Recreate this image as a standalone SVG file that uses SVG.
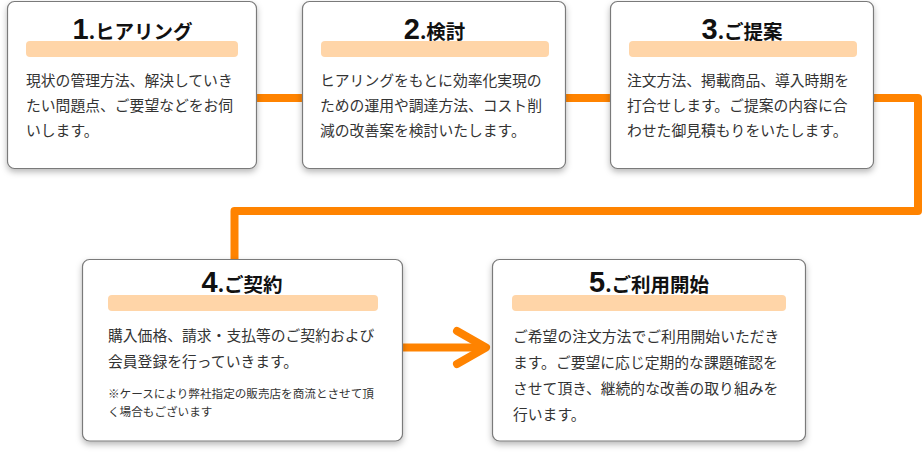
<svg xmlns="http://www.w3.org/2000/svg" width="924" height="454" viewBox="0 0 924 454">
<defs>
<filter id="sh" x="-10%" y="-10%" width="120%" height="130%">
<feDropShadow dx="0" dy="3" stdDeviation="3" flood-color="#000" flood-opacity="0.28"/>
</filter>
</defs>
<style>
.box{fill:#fff;stroke:#7a7a7a;stroke-width:1.2;filter:url(#sh)}
.bar{fill:#FFD5A8}
.conn{fill:none;stroke:#FF8300;stroke-width:8;stroke-linejoin:round;stroke-linecap:butt}
.ttl{font-family:"Noto Sans CJK JP","Noto Sans",sans-serif;font-weight:700;font-size:19.5px;fill:#111;text-anchor:middle}
.num{font-family:"Liberation Sans",Arial,sans-serif;font-weight:700;font-size:29px}
.body{font-family:"Noto Sans CJK JP","Noto Sans",sans-serif;font-size:14.8px;fill:#333}
.note{font-family:"Noto Sans CJK JP","Noto Sans",sans-serif;font-size:11.6px;fill:#333}
</style>
<rect width="924" height="454" fill="#fff"/>
<g id="connectors">
<line class="conn" x1="250" y1="98" x2="310" y2="98"/>
<line class="conn" x1="560" y1="98" x2="618" y2="98"/>
<path class="conn" d="M866 98 H918 V211 H234.5 V265"/>
<line class="conn" x1="396" y1="347.5" x2="484" y2="347.5"/>
<polyline class="conn" style="stroke-linecap:round" points="457,331 486,347.5 457,364"/>
</g>
<g id="node1">
<rect class="box" x="7.5" y="1.5" width="249" height="167" rx="7"/>
<rect class="bar" x="26" y="41" width="212" height="16" rx="4"/>
<text class="ttl" x="132.5" y="39"><tspan class="num">1</tspan>.ヒアリング</text>
<text class="body" x="26" y="86">現状の管理方法、解決していき</text>
<text class="body" x="26" y="111">たい問題点、ご要望などをお伺</text>
<text class="body" x="26" y="136">いします。</text>
</g>
<g id="node2">
<rect class="box" x="302.5" y="1.5" width="263" height="167" rx="7"/>
<rect class="bar" x="321" y="41" width="228" height="16" rx="4"/>
<text class="ttl" x="434.5" y="39"><tspan class="num">2</tspan>.検討</text>
<text class="body" x="320" y="86">ヒアリングをもとに効率化実現の</text>
<text class="body" x="320" y="111">ための運用や調達方法、コスト削</text>
<text class="body" x="320" y="136">減の改善案を検討いたします。</text>
</g>
<g id="node3">
<rect class="box" x="610.5" y="1.5" width="263" height="167" rx="7"/>
<rect class="bar" x="629" y="41" width="228" height="16" rx="4"/>
<text class="ttl" x="742" y="39"><tspan class="num">3</tspan>.ご提案</text>
<text class="body" x="627" y="86">注文方法、掲載商品、導入時期を</text>
<text class="body" x="627" y="111">打合せします。ご提案の内容に合</text>
<text class="body" x="627" y="136">わせた御見積もりをいたします。</text>
</g>
<g id="node4">
<rect class="box" x="82.5" y="259.5" width="320" height="181.5" rx="7"/>
<rect class="bar" x="108" y="295" width="270" height="16" rx="4"/>
<text class="ttl" x="242" y="292"><tspan class="num">4</tspan>.ご契約</text>
<text class="body" x="108" y="341">購入価格、請求・支払等のご契約および</text>
<text class="body" x="108" y="366.5">会員登録を行っていきます。</text>
<text class="note" x="108" y="398">※ケースにより弊社指定の販売店を商流とさせて頂</text>
<text class="note" x="108" y="416">く場合もございます</text>
</g>
<g id="node5">
<rect class="box" x="492.5" y="259.5" width="313" height="181.5" rx="7"/>
<rect class="bar" x="512" y="295" width="274" height="16" rx="4"/>
<text class="ttl" x="649" y="292"><tspan class="num">5</tspan>.ご利用開始</text>
<text class="body" x="513" y="342">ご希望の注文方法でご利用開始いただき</text>
<text class="body" x="513" y="368">ます。ご要望に応じ定期的な課題確認を</text>
<text class="body" x="513" y="394">させて頂き、継続的な改善の取り組みを</text>
<text class="body" x="513" y="419.5">行います。</text>
</g>
</svg>
